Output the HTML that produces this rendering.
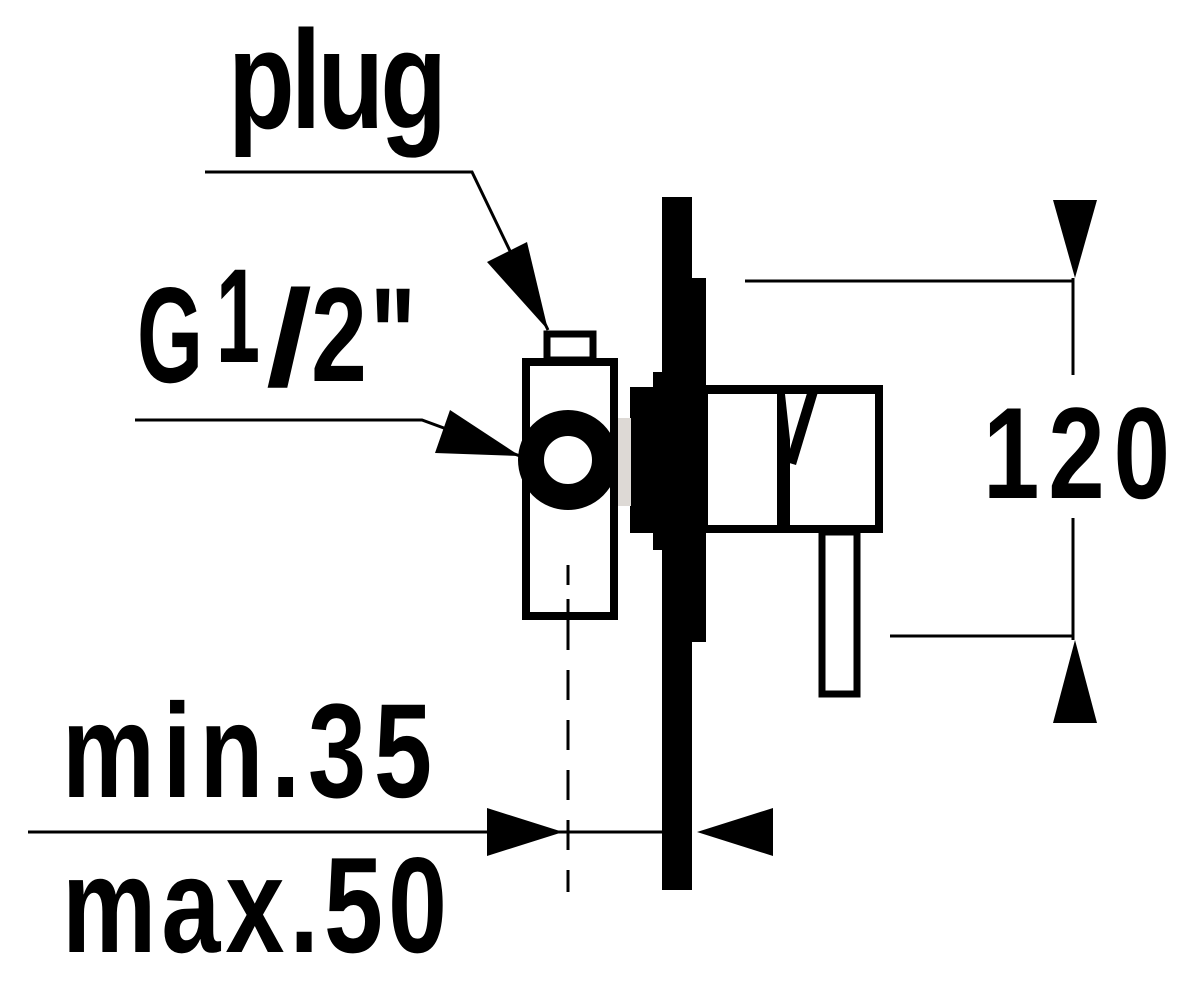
<!DOCTYPE html>
<html><head><meta charset="utf-8"><style>html,body{margin:0;padding:0;background:#fff;}svg{display:block}</style></head>
<body>
<svg width="1200" height="992" viewBox="0 0 1200 992" xmlns="http://www.w3.org/2000/svg">
<rect width="1200" height="992" fill="#fff"/>
<g font-family="Liberation Sans, sans-serif" font-weight="bold" fill="#000" transform="scale(0.78,1)">
<text x="292.3" y="128" font-size="140" textLength="280.8" lengthAdjust="spacing">plug</text>
<text x="79.5" y="797" font-size="134" textLength="474.4" lengthAdjust="spacing">min.35</text>
<text x="79.5" y="952" font-size="136" textLength="493.6" lengthAdjust="spacing">max.50</text>
<text x="1260.3" y="498" font-size="130" textLength="239.7" lengthAdjust="spacing">120</text>
</g>
<g font-family="Liberation Sans, sans-serif" font-weight="bold" fill="#000">
<text x="137" y="382" font-size="136" textLength="66" lengthAdjust="spacingAndGlyphs">G</text>
<text x="216" y="362" font-size="134" textLength="44" lengthAdjust="spacingAndGlyphs">1</text>
<text x="266" y="385" font-size="136" textLength="46" lengthAdjust="spacingAndGlyphs">/</text>
<text x="311" y="381" font-size="134" textLength="56" lengthAdjust="spacingAndGlyphs">2</text>
<text x="370" y="381" font-size="134" textLength="46" lengthAdjust="spacingAndGlyphs">"</text>
</g>
<g stroke="#000" stroke-width="3" fill="none">
<polyline points="205,172 472,172 548,330"/>
<polyline points="135,420 422,420 520,456"/>
<line x1="28" y1="832" x2="665" y2="832"/>
<line x1="745" y1="281" x2="1073" y2="281"/>
<line x1="890" y1="636" x2="1073" y2="636"/>
<line x1="1073" y1="278" x2="1073" y2="375"/>
<line x1="1073" y1="518" x2="1073" y2="640"/>
<line x1="568" y1="620" x2="568" y2="892" stroke-dasharray="30,20"/>
</g>
<g fill="#000">
<polygon points="548,330 487,262 527,242"/>
<polygon points="520,456 450,410 435,453"/>
<polygon points="563,832 487,808 487,856"/>
<polygon points="697,832 773,808 773,856"/>
<polygon points="1075,278 1053,200 1097,200"/>
<polygon points="1075,640 1053,723 1097,723"/>
<rect x="662" y="197" width="30" height="693"/>
<rect x="688" y="278" width="18" height="364"/>
<rect x="653" y="372" width="12" height="178"/>
<rect x="630" y="387" width="30" height="146"/>
</g>
<rect x="607" y="418" width="24" height="88" fill="#ddd9d5"/>
<rect x="526" y="362" width="88" height="254" fill="#fff" stroke="#000" stroke-width="8"/>
<rect x="547" y="334" width="46" height="26" fill="#fff" stroke="#000" stroke-width="7"/>
<line x1="568" y1="565" x2="568" y2="615" stroke="#000" stroke-width="3" stroke-dasharray="20,14"/>
<circle cx="568" cy="460" r="37" fill="#fff" stroke="#000" stroke-width="26"/>
<rect x="703" y="385" width="180" height="148" fill="#000"/>
<rect x="708" y="394" width="69" height="131" fill="#fff"/>
<rect x="790" y="394" width="85" height="131" fill="#fff"/>
<polygon points="785,394 812,394 790,440" fill="#fff"/>
<polygon points="808,390 818,392 796,465 786,462" fill="#000"/>
<rect x="822" y="532" width="35" height="162" fill="#fff" stroke="#000" stroke-width="7"/>
</svg>
</body></html>
